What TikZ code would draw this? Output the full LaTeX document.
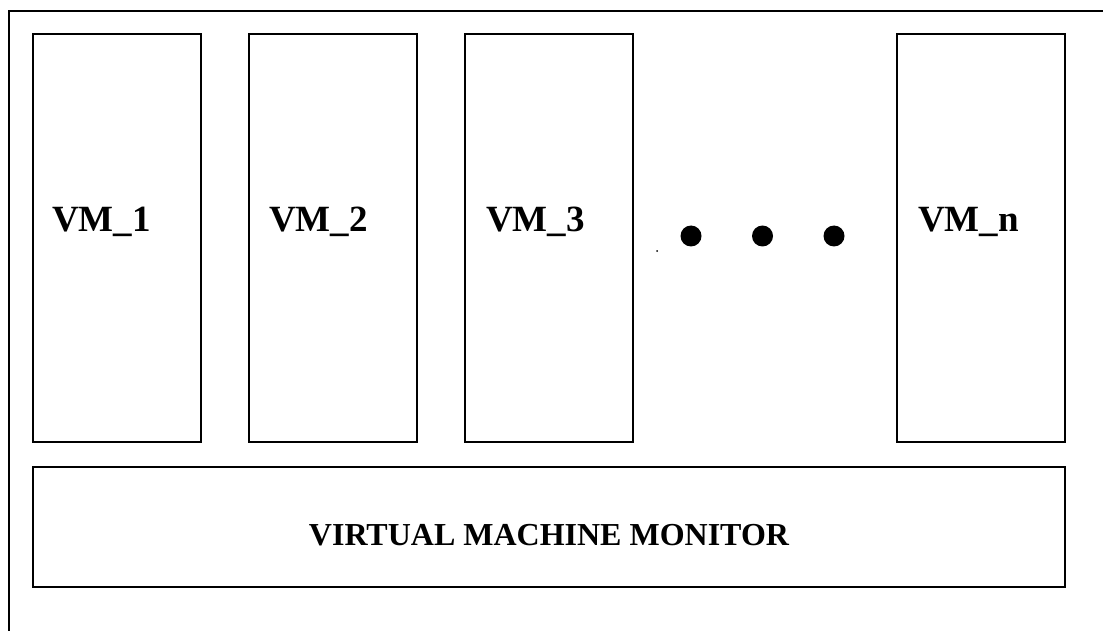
\documentclass[tikz,border=0pt]{standalone}
\usepackage{fontspec}
\setmainfont{Liberation Serif}
\usetikzlibrary{positioning}

\begin{document}
\begin{tikzpicture}[x=1pt, y=-1pt,
		vmbox/.style={draw, line width=2pt, minimum width=168pt, minimum height=408pt, outer sep=0pt, inner sep=0pt},
		vmlabel/.style={font=\bfseries\fontsize{37}{40}\selectfont, inner sep=0pt, anchor=base west}]
			\useasboundingbox (0,0) rectangle (1103,631);
			\draw[line width=2pt] (9,631) -- (9,11) -- (1103,11);
			\node[vmbox] (VM1) at (117,238) {};
			\node[vmbox, right=48pt of VM1] (VM2) {};
			\node[vmbox, right=48pt of VM2] (VM3) {};
			\node[vmbox] (VMn) at (981,238) {};
			\node[draw, line width=2pt, minimum width=1032pt, minimum height=120pt, outer sep=0pt] (VMM) at (549,527) {};
			\node[font=\bfseries\fontsize{32}{36}\selectfont, yshift=-8pt] (VMMlabel) at (VMM.center) {VIRTUAL MACHINE MONITOR};
			\node[vmlabel, xshift=19pt, yshift=6pt] (L1) at (VM1.west) {VM\_1};
			\node[vmlabel, xshift=20pt, yshift=6pt] (L2) at (VM2.west) {VM\_2};
			\node[vmlabel, xshift=21pt, yshift=6pt] (L3) at (VM3.west) {VM\_3};
			\node[vmlabel, xshift=21pt, yshift=6pt] (Ln) at (VMn.west) {VM\_n};
			\foreach \i in {0,1,2}
				\fill (691+71.5*\i,236) circle (10.5pt);
			\fill (657,251) circle (1pt);
		\end{tikzpicture}
\end{document}
